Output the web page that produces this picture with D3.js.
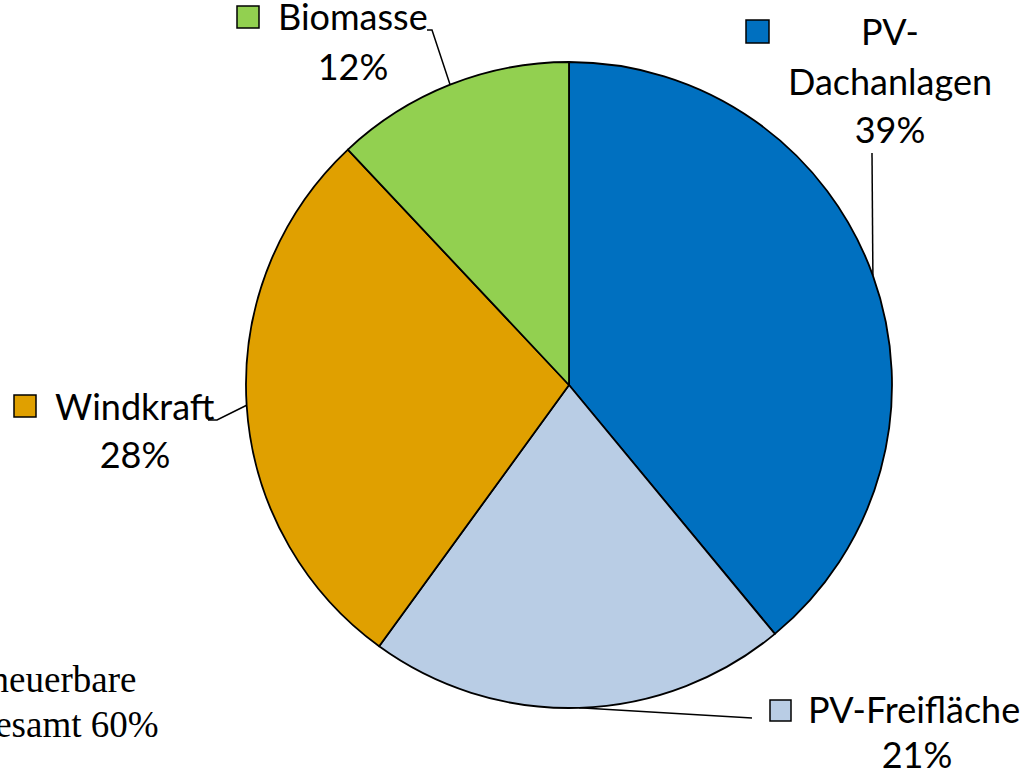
<!DOCTYPE html>
<html>
<head>
<meta charset="utf-8">
<script src="https://cdn.jsdelivr.net/npm/d3@7"></script>
<style>
  body { margin: 0; background: #fff; }
  svg { display: block; }
</style>
</head>
<body>
<svg id="chart" width="1029" height="778"></svg>
<script>
// data
const categories = ["PV-Dachanlagen", "PV-Freifläche", "Windkraft", "Biomasse"];
const values = [39, 21, 28, 12];
const colors = ["#0070C0", "#B9CDE5", "#E0A000", "#92D050"];
const noteLines = ["Erneuerbare", "insgesamt 60%"];

const width = 1029, height = 778;
const cx = 569, cy = 385, radius = 323;

// label layout (name split into lines, square, text, leader end points)
const labelLayout = {
  "PV-Dachanlagen": {
    square: [746, 20, 23],
    lines: [["PV-", 890, 45, "middle"], ["Dachanlagen", 890, 95, "middle"], ["pct", 890, 143, "middle"]],
    leader: [[872, 153]]
  },
  "PV-Freifläche": {
    square: [770, 700, 21],
    lines: [["PV-Freifläche", 808, 723, "start"], ["pct", 917, 768, "middle"]],
    leader: [[752, 718]]
  },
  "Windkraft": {
    square: [14, 395, 22],
    lines: [["Windkraft", 55, 420, "start"], ["pct", 135, 468, "middle"]],
    leader: [[217, 420], [208, 420]]
  },
  "Biomasse": {
    square: [237, 6, 22],
    lines: [["Biomasse", 278, 30, "start"], ["pct", 353, 80, "middle"]],
    leader: [[432, 30], [427, 30]]
  }
};

const svg = d3.select("#chart");
const data = categories.map((c, i) => ({ name: c, value: values[i], color: colors[i] }));

const pie = d3.pie().sort(null).value((d) => d.value);
const arcs = pie(data);

const arc = d3.arc().innerRadius(0).outerRadius(radius);

const gPie = svg.append("g").attr("transform", "translate(" + cx + "," + cy + ")");

gPie
  .selectAll("path")
  .data(arcs)
  .join("path")
  .attr("d", arc)
  .attr("fill", (d) => d.data.color)
  .attr("stroke", "#000")
  .attr("stroke-width", 1.8)
  .attr("stroke-linejoin", "round");

// leader lines from arc midpoint
const gLabels = svg.append("g");

arcs.forEach((a) => {
  const lay = labelLayout[a.data.name];
  const mid = (a.startAngle + a.endAngle) / 2;
  const p0 = [cx + radius * Math.sin(mid), cy - radius * Math.cos(mid)];
  const pts = [p0].concat(lay.leader);

  gLabels
    .append("path")
    .attr("d", d3.line()(pts))
    .attr("fill", "none")
    .attr("stroke", "#000")
    .attr("stroke-width", 1.5);

  gLabels
    .append("rect")
    .attr("x", lay.square[0])
    .attr("y", lay.square[1])
    .attr("width", lay.square[2])
    .attr("height", lay.square[2])
    .attr("fill", a.data.color)
    .attr("stroke", "#000")
    .attr("stroke-width", 1.5);

  lay.lines.forEach(([txt, x, y, anchor]) => {
    gLabels
      .append("text")
      .attr("x", x)
      .attr("y", y)
      .attr("text-anchor", anchor)
      .attr("font-family", "Lato, 'Open Sans', sans-serif")
      .attr("font-size", 36)
      .attr("fill", "#000")
      .text(txt === "pct" ? a.data.value + "%" : txt);
  });
});

// note text, bottom left (partly cut by the frame)
svg
  .append("g")
  .selectAll("text")
  .data(noteLines)
  .join("text")
  .attr("x", 46)
  .attr("y", (d, i) => 692 + i * 45)
  .attr("text-anchor", "middle")
  .attr("font-family", "'Liberation Serif', 'Times New Roman', serif")
  .attr("font-size", 37)
  .attr("fill", "#000")
  .text((d) => d);
</script>
</body>
</html>
